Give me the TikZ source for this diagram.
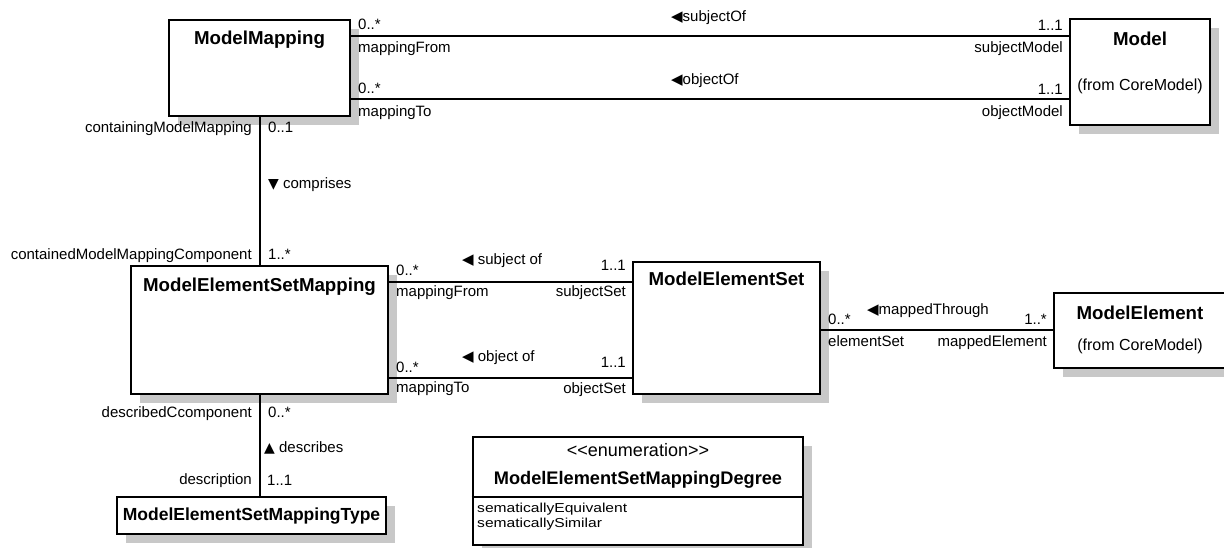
\documentclass[tikz,border=0pt]{standalone}
\usepackage{fontspec}
\usepackage{graphicx}
\setmainfont{Liberation Sans}
\newfontfamily\symf{DejaVu Sans}
\usetikzlibrary{shadows}
\definecolor{shadowgray}{RGB}{200,200,200}
\tikzset{
  cls/.style={draw=black, line width=2.6pt, fill=white, inner sep=0pt,
    drop shadow={shadow xshift=9pt, shadow yshift=-9pt, fill=shadowgray, opacity=1}},
  assoc/.style={line width=2pt},
  lbl/.style={inner sep=0pt, font=\fontsize{15}{18}\selectfont},
  ttl/.style={inner sep=0pt, font=\fontsize{18.7}{22}\selectfont\bfseries},
  subt/.style={inner sep=0pt, font=\fontsize{16}{19}\selectfont},
  attr/.style={inner sep=0pt, font=\fontsize{13}{13}\selectfont}
}
\begin{document}
\begin{tikzpicture}[x=1pt,y=-1pt]
\useasboundingbox (0,0) rectangle (1224,548);
\clip (0,0) rectangle (1224,548);

% classes
\node[cls, minimum width=181pt, minimum height=96pt] (mm) at (259.5,68) {};
\node[ttl, anchor=base] (mmT) at (259.5,45) {ModelMapping};

\node[cls, minimum width=140pt, minimum height=106pt] (model) at (1140,72) {};
\node[ttl, anchor=base] (modelT) at (1140,46) {Model};
\node[subt, anchor=base] (modelS) at (1140,91) {(from CoreModel)};

\node[cls, minimum width=257pt, minimum height=128pt] (mesm) at (259.5,330) {};
\node[ttl, anchor=base] (mesmT) at (259.5,291.7) {ModelElementSetMapping};

\node[cls, minimum width=187pt, minimum height=132pt] (mes) at (726.5,328) {};
\node[ttl, anchor=base] (mesT) at (726.5,286) {ModelElementSet};

\node[cls, minimum width=172pt, minimum height=75pt] (me) at (1140,330.5) {};
\node[ttl, anchor=base] (meT) at (1140,319) {ModelElement};
\node[subt, anchor=base] (meS) at (1140,350) {(from CoreModel)};

\node[cls, minimum width=269pt, minimum height=37pt] (type) at (251.5,515.5) {};
\node[ttl, anchor=base, font=\fontsize{17.5}{20}\selectfont\bfseries] (typeT) at (251.5,520.7) {ModelElementSetMappingType};

\node[cls, minimum width=330pt, minimum height=108pt] (enum) at (638,491) {};
\coordinate (divL) at (473,497);
\coordinate (divR) at (803,497);
\draw[assoc] (enum.west |- divL) -- (enum.east |- divR);
\node[inner sep=0pt, anchor=base, font=\fontsize{18}{20}\selectfont] (enumS) at (638,456) {<\kern0pt<enumeration>\kern0pt>};
\node[inner sep=0pt, anchor=base, font=\fontsize{18.2}{20}\selectfont\bfseries] (enumT) at (638,484) {ModelElementSetMappingDegree};
\node[attr, anchor=base west] (enumA1) at (477,512.5) {\scalebox{1.2}[1]{sematicallyEquivalent}};
\node[attr, anchor=base west] (enumA2) at (477,527.5) {\scalebox{1.2}[1]{sematicallySimilar}};

% connectors
\coordinate (y1) at (0,36);
\coordinate (y2) at (0,99);
\coordinate (y3) at (0,282);
\coordinate (y4) at (0,378);
\coordinate (y5) at (0,330);
\draw[assoc] (mm.east |- y1) -- (model.west |- y1);
\draw[assoc] (mm.east |- y2) -- (model.west |- y2);
\draw[assoc] (mm.south) -- (mesm.north);
\draw[assoc] (mesm.east |- y3) -- (mes.west |- y3);
\draw[assoc] (mesm.east |- y4) -- (mes.west |- y4);
\draw[assoc] (mes.east |- y5) -- (me.west |- y5);
\draw[assoc] (mesm.south) -- (mesm.south |- type.north);

% labels: ModelMapping - Model
\node[lbl, anchor=base west] (a1) at (358,30) {0..*};
\node[lbl, anchor=base west] (a2) at (358,52.7) {mappingFrom};
\node[lbl, anchor=base east] (a3) at (1063,30.7) {1..1};
\node[lbl, anchor=base east] (a4) at (1063,52.7) {subjectModel};
\node[lbl, anchor=base west] (a5) at (671,21.7) {{\symf\fontsize{15}{15}\selectfont ◀}subjectOf};
\node[lbl, anchor=base west] (b1) at (358,94) {0..*};
\node[lbl, anchor=base west] (b2) at (358,117) {mappingTo};
\node[lbl, anchor=base east] (b3) at (1063,95) {1..1};
\node[lbl, anchor=base east] (b4) at (1063,117) {objectModel};
\node[lbl, anchor=base west] (b5) at (671,85) {{\symf\fontsize{15}{15}\selectfont ◀}objectOf};

% comprises
\node[lbl, anchor=base east] (c1) at (252,133) {containingModelMapping};
\node[lbl, anchor=base west] (c2) at (268,133) {0..1};
\node[lbl, anchor=base west] (c3) at (268,189) {{\symf\fontsize{14}{14}\selectfont ▼} comprises};
\node[lbl, anchor=base east] (c4) at (252,260) {containedModelMappingComponent};
\node[lbl, anchor=base west] (c5) at (268,260) {1..*};

% MESM - MES
\node[lbl, anchor=base west] (d1) at (396,276) {0..*};
\node[lbl, anchor=base west] (d2) at (396,297) {mappingFrom};
\node[lbl, anchor=base east] (d3) at (626,270.7) {1..1};
\node[lbl, anchor=base east] (d4) at (626,297) {subjectSet};
\node[lbl, anchor=base west] (d5) at (462,265) {{\symf\fontsize{15}{15}\selectfont ◀} subject of};
\node[lbl, anchor=base west] (e1) at (396,372.7) {0..*};
\node[lbl, anchor=base west] (e2) at (396,392.7) {mappingTo};
\node[lbl, anchor=base east] (e3) at (626,367) {1..1};
\node[lbl, anchor=base east] (e4) at (626,393) {objectSet};
\node[lbl, anchor=base west] (e5) at (462,361.7) {{\symf\fontsize{15}{15}\selectfont ◀} object of};

% MES - ModelElement
\node[lbl, anchor=base west] (f1) at (828,324) {0..*};
\node[lbl, anchor=base west] (f2) at (828,346) {elementSet};
\node[lbl, anchor=base west] (f5) at (867,314) {{\symf\fontsize{15}{15}\selectfont ◀}mappedThrough};
\node[lbl, anchor=base east] (f3) at (1047,324) {1..*};
\node[lbl, anchor=base east] (f4) at (1047,346) {mappedElement};

% describes
\node[lbl, anchor=base east] (g1) at (252,417) {describedCcomponent};
\node[lbl, anchor=base west] (g2) at (268,417) {0..*};
\node[lbl, anchor=base west] (g3) at (264,452.7) {{\symf\fontsize{14}{14}\selectfont ▲} describes};
\node[lbl, anchor=base east] (g4) at (252,484) {description};
\node[lbl, anchor=base west] (g5) at (267,485) {1..1};
\end{tikzpicture}
\end{document}
